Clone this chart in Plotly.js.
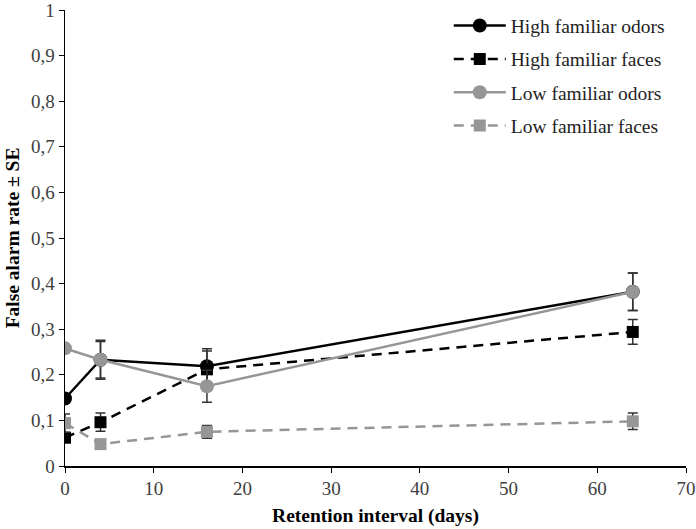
<!DOCTYPE html>
<html><head><meta charset="utf-8">
<script src="https://cdn.plot.ly/plotly-3.0.1.min.js"></script>
<style>body{margin:0;background:#fff}#chart{width:696px;height:529px}</style>
</head><body><div id="chart"></div>
<script>
const days = [0, 4, 16, 64];
const seriesNames = ["High familiar odors", "High familiar faces", "Low familiar odors", "Low familiar faces"];
const highOdors = [0.148, 0.233, 0.219, 0.382];
const highOdorsSE = [0.008, 0.043, 0.038, 0.041];
const highFaces = [0.062, 0.096, 0.212, 0.294];
const highFacesSE = [0.008, 0.02, 0.04, 0.027];
const lowOdors = [0.258, 0.233, 0.175, 0.382];
const lowOdorsSE = [0.008, 0.04, 0.035, 0.041];
const lowFaces = [0.094, 0.048, 0.075, 0.098];
const lowFacesSE = [0.02, 0.006, 0.014, 0.018];

const BLACK = '#000000', GRAY = '#969696', ERR = '#333333';
function tr(name, y, se, color, dash, symbol, size, grp) {
  return {
    x: days, y: y, name: name, type: 'scatter', mode: 'lines+markers',
    legendgroup: grp,
    line: {color: color, width: 2.5, dash: dash},
    marker: {color: color, symbol: symbol, size: size},
    error_y: {type: 'data', array: se, visible: true, color: ERR, thickness: 1.5, width: 5}
  };
}
const data = [
  tr(seriesNames[0], highOdors, highOdorsSE, BLACK, 'solid', 'circle', 14, 'a'),
  tr(seriesNames[1], highFaces, highFacesSE, BLACK, '10px,7px', 'square', 12, 'b'),
  tr(seriesNames[2], lowOdors, lowOdorsSE, GRAY, 'solid', 'circle', 14, 'c'),
  tr(seriesNames[3], lowFaces, lowFacesSE, GRAY, '10px,7px', 'square', 12, 'd')
];
const FAM = 'Liberation Serif, Times New Roman, serif';
const font = {family: FAM, size: 19, color: '#404040'};
const layout = {
  width: 696, height: 529,
  margin: {l: 65, r: 10, t: 10, b: 63, autoexpand: false},
  paper_bgcolor: '#fff', plot_bgcolor: '#fff',
  separators: ',.',
  font: font,
  showlegend: true,
  legend: {x: 0.618, y: 1.008, xanchor: 'left', yanchor: 'top', bgcolor: 'rgba(0,0,0,0)',
    font: {family: FAM, size: 19.5, color: '#222'}, itemwidth: 52, tracegroupgap: 5, traceorder: 'grouped'},
  xaxis: {range: [0, 70], dtick: 10, tick0: 0, showgrid: false, zeroline: false,
    showline: true, linecolor: '#000', linewidth: 1.5, ticks: 'outside', ticklen: 5, tickcolor: '#000',
    tickfont: font, ticklabeloverflow: 'allow',
    title: {text: '<b>Retention interval (days)</b>', font: {family: FAM, size: 19.5, color: '#000'}, standoff: 10}},
  yaxis: {range: [0, 1], dtick: 0.1, tick0: 0, showgrid: false, zeroline: false,
    showline: true, linecolor: '#000', linewidth: 1.5, ticks: 'outside', ticklen: 5, tickcolor: '#000',
    tickfont: font, ticklabeloverflow: 'allow',
    title: {text: '<b>False alarm rate ± SE</b>', font: {family: FAM, size: 19.5, color: '#000'}, standoff: 6}}
};
Plotly.newPlot('chart', data, layout, {displayModeBar: false, staticPlot: true});
</script></body></html>
